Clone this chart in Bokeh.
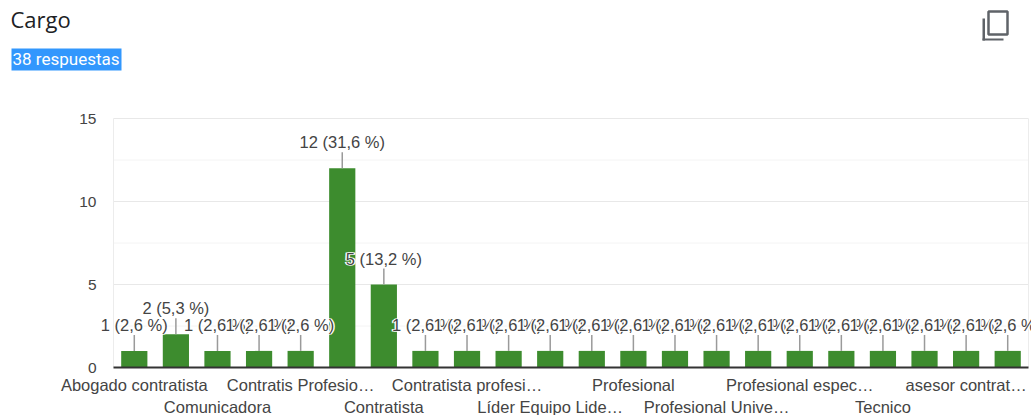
from bokeh.plotting import figure
from bokeh.models import Range1d, FixedTicker, LinearAxis, Label, BoxAnnotation
from bokeh.core.properties import value
from bokeh.embed import file_html
from bokeh.resources import INLINE

title_text = "Cargo"
subtitle_text = "38 respuestas"
values = [1, 2, 1, 1, 1, 12, 5, 1, 1, 1, 1, 1, 1, 1, 1, 1, 1, 1, 1, 1, 1, 1]
percents = ["2,6", "5,3", "2,6", "2,6", "2,6", "31,6", "13,2", "2,6", "2,6", "2,6", "2,6",
            "2,6", "2,6", "2,6", "2,6", "2,6", "2,6", "2,6", "2,6", "2,6", "2,6", "2,6"]
row1_positions = [0, 4, 8, 12, 16, 20]
row1_labels = ["Abogado contratista", "Contratis Profesio…", "Contratista profesi…",
               "Profesional", "Profesional espec…", "asesor contrat…"]
row2_positions = [2, 6, 10, 14, 18]
row2_labels = ["Comunicadora", "Contratista", "Líder Equipo Lide…", "Profesional Unive…", "Tecnico"]
y_major = [0, 5, 10, 15]
y_minor = [2.5, 7.5, 12.5]

FONT = "Liberation Sans"
W, H = 1031, 415
# Plot area in picture pixels. The frame fills the whole canvas so nothing is clipped.
PL, PR, PT, PB = 113, 1028, 118, 367
X0, X1 = -0.5, 21.5
Y0, Y1 = 0, 15
xu = (PR - PL) / (X1 - X0)
yu = (PB - PT) / (Y1 - Y0)

p = figure(width=W, height=H, output_backend="svg", toolbar_location=None,
           x_range=Range1d(X0 - PL / xu, X1 + (W - PR) / xu),
           y_range=Range1d(Y0 - (H - PB) / yu, Y1 + PT / yu),
           x_axis_location=None, y_axis_location=None, tools="",
           min_border=0, min_border_left=0, min_border_right=0, min_border_top=0, min_border_bottom=0,
           background_fill_color="white", border_fill_color="white")
p.outline_line_color = None
p.grid.visible = False

# gridlines and plot edges
p.segment(x0=X0, x1=X1, y0=y_minor, y1=y_minor, line_color="#f4f4f4", line_width=1)
p.segment(x0=X0, x1=X1, y0=y_major[1:], y1=y_major[1:], line_color="#e8e8e8", line_width=1)
p.segment(x0=[X0, X1], x1=[X0, X1], y0=Y0, y1=Y1, line_color="#ececec", line_width=1)

ya = LinearAxis(ticker=FixedTicker(ticks=y_major), fixed_location=X0,
                axis_line_color=None, major_tick_line_color=None, minor_tick_line_color=None,
                major_tick_out=0, major_tick_in=0,
                major_label_standoff=17, major_label_text_font=FONT,
                major_label_text_font_size="15.5px", major_label_text_color="#444444")
p.add_layout(ya, "left")

for pos, labels, standoff, line in [(row1_positions, row1_labels, 8, "#333333"),
                                    (row2_positions, row2_labels, 30, None)]:
    ax = LinearAxis(ticker=FixedTicker(ticks=pos), fixed_location=Y0, bounds=(X0, X1),
                    major_label_overrides=dict(zip(pos, labels)),
                    axis_line_color=line, axis_line_width=2,
                    major_tick_line_color=None, minor_tick_line_color=None,
                    major_tick_out=0, major_tick_in=0, minor_tick_out=0, minor_tick_in=0,
                    major_label_standoff=standoff,
                    major_label_text_font=FONT, major_label_text_font_size="16.5px",
                    major_label_text_color="#444444")
    p.add_layout(ax, "below")

xs = list(range(len(values)))
p.vbar(x=xs, top=values, width=0.63, bottom=0, fill_color="#3d8c2e", line_color=None)
p.segment(x0=xs, y0=values, x1=xs, y1=[v + 0.96 for v in values], line_color="#9a9a9a", line_width=1.5)

for x, v, pct in zip(xs, values, percents):
    t = f"{v} ({pct} %)"
    common = dict(x=[x], y=[v], text=[t], text_font=value(FONT), text_font_size="16.5px",
                  text_align="center", text_baseline="middle", y_offset=-26)
    p.text(text_color="white", text_outline_color="white", x_offset=-1, **common)
    p.text(text_color="white", text_outline_color="white", x_offset=1, **common)
    p.text(text_color="#444444", **common)

def sy(py):
    return H - py

p.add_layout(Label(x=10, y=sy(18), x_units="screen", y_units="screen", text=title_text,
                   text_font="Open Sans", text_font_size="22px", text_color="#202124",
                   text_baseline="middle", text_align="left"))

def box(l, r, t, b, **kw):
    p.add_layout(BoxAnnotation(left=l, right=r, top=sy(t), bottom=sy(b),
                               left_units="screen", right_units="screen", top_units="screen", bottom_units="screen",
                               **kw))

box(11, 121, 48, 70, fill_color="#3297fd", fill_alpha=1, line_color=None, level="overlay")
p.add_layout(Label(x=12, y=sy(58), x_units="screen", y_units="screen", text=subtitle_text,
                   text_font="Roboto", text_font_size="17px", text_color="white",
                   text_baseline="middle", text_align="left", level="overlay"))

ICON = "#5f6368"
box(988, 1007, 11, 34, fill_alpha=0, line_color=ICON, line_width=2.5, line_alpha=1)
box(982, 984.5, 18, 40, fill_color=ICON, fill_alpha=1, line_color=None)
box(982, 1003, 38, 40, fill_color=ICON, fill_alpha=1, line_color=None)

open("out.html", "w").write(file_html(p, INLINE))
